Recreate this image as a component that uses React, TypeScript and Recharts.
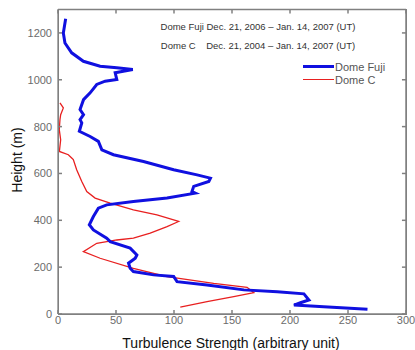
import { ScatterChart, Scatter, XAxis, YAxis, ReferenceLine } from 'recharts'

// Dome Fuji profile (strength vs height), read top → bottom
const fujiStrength = [6.6, 4.6, 6, 11.8, 21.9, 36.3, 50.7, 64.5, 49.3, 50.7, 40.6, 33.4, 27.7, 22, 19, 22, 19, 20.5, 18.4, 27.7, 34.8, 37.8, 47.8, 73.7, 99.7, 119.9, 131.4, 130, 117, 115.5, 118.4, 94, 65, 42, 34.8, 30.5, 27, 30.5, 42, 45, 62.2, 68, 66.6, 60.8, 62.2, 65, 82.4, 99.7, 102.6, 128.5, 160.2, 189, 212, 216.3, 209, 203.4, 229, 266.8]
const fujiHeight = [1261, 1200, 1157, 1115, 1079, 1058, 1051, 1044, 1030, 1001, 994, 980, 944, 915, 873, 851, 830, 816, 780, 758, 737, 701, 680, 651, 616, 594, 580, 566, 545, 523, 516, 495, 480, 466, 452, 416, 381, 359, 324, 309, 281, 252, 238, 217, 195, 181, 167, 160, 138, 124, 103, 95, 86, 60, 48, 38, 31, 20]

// Dome C profile
const domeCStrength = [1.7, 4.6, 2.3, 1.7, 1.1, 2.3, 1.2, 8.9, 11.8, 13.2, 16.1, 20.5, 24.8, 32, 45, 65, 85.3, 104, 94, 79.5, 65, 50.7, 33.4, 21.9, 36.3, 65, 94, 134.2, 163, 168.8, 151.5, 128.5, 105.4]
const domeCHeight = [901, 880, 851, 830, 787, 744, 694, 680, 666, 659, 616, 566, 523, 495, 473, 445, 423, 395, 373, 345, 324, 316, 302, 266, 238, 195, 160, 131, 114, 91, 74, 53, 29]

const xTicks = [0, 50, 100, 150, 200, 250, 300]
const yTicks = [0, 200, 400, 600, 800, 1000, 1200]

const fuji = fujiStrength.map((x, i) => ({ x, y: fujiHeight[i] }))
const domeC = domeCStrength.map((x, i) => ({ x, y: domeCHeight[i] }))

const AXIS = '#808080'
const LABEL = '#6b6b6b'
const FONT = 'Arial, "Liberation Sans", sans-serif'

// MATLAB-style ticks: marks point into the plot, labels outside
function BottomTick({ x, y, payload }: any) {
  return (
    <g>
      <line x1={x} x2={x} y1={y - 6} y2={y - 10} stroke={AXIS} strokeWidth={1.5} />
      <text x={x} y={y + 4} textAnchor="middle" fontSize={11} fill={LABEL} fontFamily={FONT}>{payload.value}</text>
    </g>
  )
}
function LeftTick({ x, y, payload }: any) {
  return (
    <g>
      <line x1={x + 6} x2={x + 10} y1={y} y2={y} stroke={AXIS} strokeWidth={1.5} />
      <text x={x} y={y + 4} textAnchor="end" fontSize={11} fill={LABEL} fontFamily={FONT}>{payload.value}</text>
    </g>
  )
}

function LegendRow({ color, w, label }: { color: string; w: number; label: string }) {
  return (
    <div style={{ display: 'flex', alignItems: 'center', height: 13 }}>
      <span style={{ display: 'inline-block', width: 31, height: w, background: color }} />
      <span style={{ marginLeft: 1 }}>{label}</span>
    </div>
  )
}

export default function App() {
  return (
    <div style={{ position: 'absolute', left: 0, top: 0, width: 415, height: 350, overflow: 'hidden', background: '#fff' }}>
      <ScatterChart width={415} height={350} margin={{ top: 9.5, right: 9, left: 0, bottom: 0 }}>
        <XAxis type="number" dataKey="x" domain={[0, 300]} ticks={xTicks} height={36}
          stroke={AXIS} strokeWidth={1.3} tickLine={false} tickSize={0} tickMargin={6} tick={<BottomTick />} interval={0} />
        <YAxis type="number" dataKey="y" domain={[0, 1300]} ticks={yTicks} width={58}
          stroke={AXIS} strokeWidth={1.3} tickLine={false} tickSize={0} tickMargin={6} tick={<LeftTick />} interval={0} />
        {/* frame: top and right edges */}
        <ReferenceLine y={1300} stroke={AXIS} strokeWidth={1.5} ifOverflow="visible" />
        <ReferenceLine x={300} stroke={AXIS} strokeWidth={1.5} ifOverflow="visible" />
        {/* mirrored tick marks on top and right edges */}
        {xTicks.map(t => (
          <ReferenceLine key={'tx' + t} segment={[{ x: t, y: 1300 }, { x: t, y: 1283 }]} stroke={AXIS} strokeWidth={1.5} ifOverflow="visible" />
        ))}
        {yTicks.map(t => (
          <ReferenceLine key={'ty' + t} segment={[{ x: 300, y: t }, { x: 296.5, y: t }]} stroke={AXIS} strokeWidth={1.5} ifOverflow="visible" />
        ))}
        <Scatter name="Dome C" data={domeC} line={{ stroke: '#e82020', strokeWidth: 1.3 }}
          shape={() => <g />} legendType="none" isAnimationActive={false} />
        <Scatter name="Dome Fuji" data={fuji} line={{ stroke: '#1010e0', strokeWidth: 3 }}
          shape={() => <g />} legendType="none" isAnimationActive={false} />
        <text x={258} y={30} textAnchor="middle" fontSize={9.5} fill="#333" fontFamily={FONT}>
          Dome Fuji Dec. 21, 2006 – Jan. 14, 2007 (UT)
        </text>
        <text x={258} y={49} textAnchor="middle" fontSize={9.5} fill="#333" fontFamily={FONT} style={{ whiteSpace: 'pre' }}>
          {'Dome C    Dec. 21, 2004 – Jan. 14, 2007 (UT)'}
        </text>
        <text x={231} y={348} textAnchor="middle" fontSize={14} fill="#111" fontFamily={FONT}>
          Turbulence Strength (arbitrary unit)
        </text>
        <text x={22} y={160} textAnchor="middle" fontSize={14} fill="#111" fontFamily={FONT} transform="rotate(-90 22 160)">
          Height (m)
        </text>
      </ScatterChart>
      {/* plot frame drawn as a plain box over the plot area */}
      <div style={{ position: 'absolute', left: 58, top: 9, width: 347, height: 304, border: `1px solid ${AXIS}`, pointerEvents: 'none' }} />
      <div style={{ position: 'absolute', left: 303, top: 60, fontFamily: FONT, fontSize: 11, color: '#555' }}>
        <LegendRow color="#1010e0" w={3} label="Dome Fuji" />
        <LegendRow color="#e82020" w={1.5} label="Dome C" />
      </div>
    </div>
  )
}
